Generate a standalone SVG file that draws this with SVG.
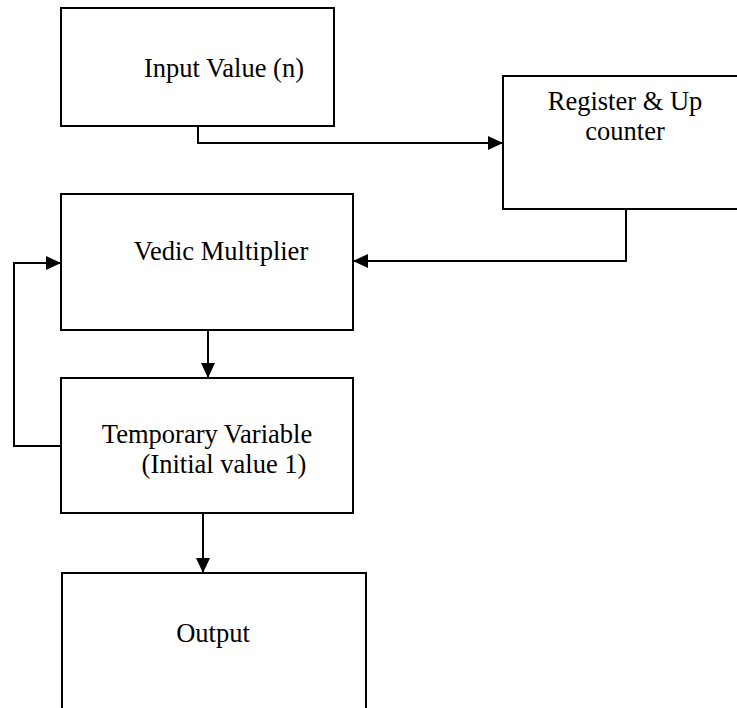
<svg xmlns="http://www.w3.org/2000/svg" width="737" height="708" viewBox="0 0 737 708">
<defs>
<style>
.box{fill:#fff;stroke:#000;stroke-width:2}
.lbl{font-family:"Liberation Serif","Times New Roman",serif;font-size:26.5px;fill:#000}
.conn{fill:none;stroke:#000;stroke-width:2}
</style>
<marker id="ah" markerWidth="15" markerHeight="14" refX="15" refY="7" orient="auto" markerUnits="userSpaceOnUse">
<path d="M0,0 L15,7 L0,14 Z" fill="#000"/>
</marker>
</defs>
<rect width="737" height="708" fill="#fff"/>
<g id="input">
<rect class="box" x="61" y="8" width="273" height="118"/>
<text class="lbl" x="224" y="77" text-anchor="middle">Input Value (n)</text>
</g>
<g id="register">
<rect class="box" x="503" y="76" width="240" height="133"/>
<text class="lbl" x="625" y="110" text-anchor="middle">Register &amp; Up</text>
<text class="lbl" x="625" y="140" text-anchor="middle">counter</text>
</g>
<g id="vedic">
<rect class="box" x="61" y="194" width="292" height="136"/>
<text class="lbl" x="221" y="260" text-anchor="middle">Vedic Multiplier</text>
</g>
<g id="temp">
<rect class="box" x="61" y="378" width="292" height="135"/>
<text class="lbl" x="207" y="443" text-anchor="middle">Temporary Variable</text>
<text class="lbl" x="224" y="473" text-anchor="middle">(Initial value 1)</text>
</g>
<g id="output">
<rect class="box" x="62" y="573" width="304" height="145"/>
<text class="lbl" x="213" y="642" text-anchor="middle">Output</text>
</g>
<g id="connectors">
<path class="conn" d="M198,126 V143 H503" marker-end="url(#ah)"/>
<path class="conn" d="M626,209 V261 H353" marker-end="url(#ah)"/>
<path class="conn" d="M208,330 V378" marker-end="url(#ah)"/>
<path class="conn" d="M61,446 H14 V263 H61" marker-end="url(#ah)"/>
<path class="conn" d="M203,513 V573" marker-end="url(#ah)"/>
</g>
</svg>
